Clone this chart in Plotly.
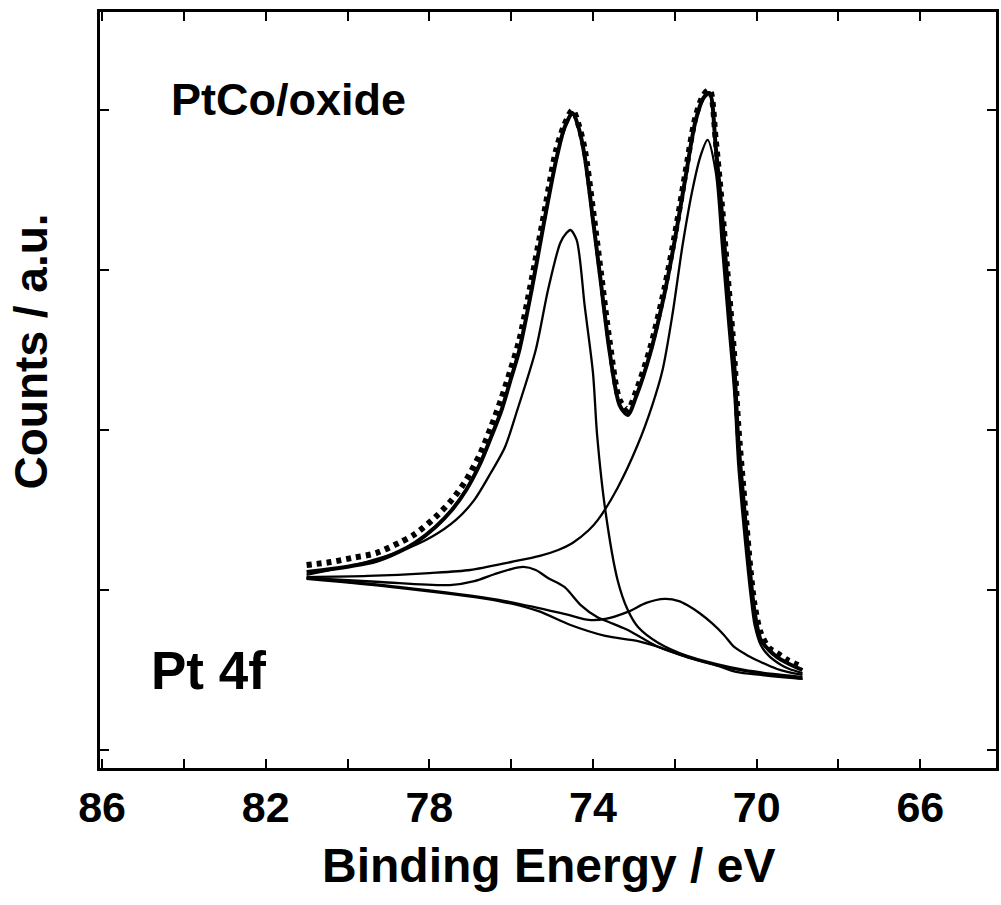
import plotly.graph_objects as go

# ---------------- data (binding energy in eV, counts in a.u.) ----------------
be_env = [81.0, 80.4, 79.9, 79.3, 78.75, 78.35, 77.85, 77.45, 77.1, 76.75, 76.5, 76.25,
          76.0, 75.8, 75.5, 75.2, 74.9, 74.7, 74.5, 74.35, 74.2, 74.0, 73.8, 73.6,
          73.35, 73.15, 72.95, 72.6, 72.25, 72.0, 71.75, 71.5, 71.3, 71.15, 71.0,
          70.85, 70.7, 70.55, 70.45, 70.3, 70.15, 70.05, 69.9, 69.7, 69.5, 69.25, 68.88]
measured = [1156, 1175, 1200, 1231, 1294, 1350, 1456, 1563, 1688, 1856, 2013, 2188,
            2388, 2563, 2938, 3344, 3750, 3906, 4000, 3906, 3750, 3375, 2969, 2563,
            2188, 2125, 2238, 2513, 2888, 3219, 3594, 3950, 4094, 4125, 3813,
            3406, 2938, 2469, 2031, 1563, 1125, 906, 731, 638, 606, 563, 519]
fit_sum = [1113, 1131, 1150, 1181, 1238, 1294, 1394, 1500, 1625, 1794, 1950, 2113,
           2325, 2500, 2875, 3294, 3688, 3888, 3981, 3888, 3706, 3313, 2906, 2500,
           2156, 2094, 2206, 2481, 2856, 3188, 3563, 3925, 4075, 4106, 3769,
           3356, 2875, 2419, 1938, 1500, 1081, 863, 688, 625, 581, 544, 500]

be_pt72 = [81.0, 79.5, 78.0, 77.0, 76.0, 75.3, 74.85, 74.5, 74.1, 73.88, 73.4, 72.91,
           72.55, 72.3, 72.06, 71.81, 71.57, 71.38, 71.2, 71.0, 70.85, 70.7, 70.55,
           70.45, 70.3, 70.15, 70.05, 69.9, 69.7, 69.4, 69.2, 68.88]
pt_4f72 = [1081, 1088, 1106, 1125, 1175, 1213, 1250, 1294, 1375, 1438, 1638, 1906,
           2156, 2375, 2719, 3156, 3500, 3706, 3813, 3613, 3156, 2688, 2238,
           1781, 1344, 969, 781, 656, 588, 531, 506, 481]

be_pt52 = [81.0, 79.55, 78.75, 77.95, 77.35, 76.9, 76.5, 76.15, 75.85, 75.4, 75.1,
           74.8, 74.65, 74.55, 74.4, 74.2, 74.0, 73.9, 73.7, 73.4, 73.15, 72.9,
           72.4, 71.7, 71.0, 70.3, 69.6, 68.88]
pt_4f52 = [1094, 1175, 1238, 1331, 1438, 1563, 1731, 1894, 2125, 2500, 2875,
           3169, 3231, 3250, 3188, 2769, 2356, 1969, 1500, 1063, 875, 769,
           669, 588, 538, 500, 475, 456]

be_ox52 = [81.0, 79.2, 77.5, 76.9, 76.4, 76.0, 75.7, 75.4, 75.1, 74.7, 74.3, 73.9,
           73.5, 73.15, 72.8, 72.4, 71.7, 71.0, 70.3, 69.6, 68.88]
ox_4f52 = [1075, 1050, 1031, 1056, 1100, 1131, 1144, 1125, 1075, 1019, 906, 831,
           788, 750, 700, 644, 581, 531, 494, 469, 444]

be_ox72 = [81.0, 78.75, 76.3, 75.35, 74.6, 74.1, 73.7, 73.15, 72.7, 72.25, 71.9,
           71.7, 71.4, 71.1, 70.8, 70.55, 70.2, 69.9, 69.5, 69.25, 68.88]
ox_4f72 = [1075, 1019, 938, 888, 844, 813, 819, 863, 919, 944, 931,
           906, 856, 794, 719, 644, 588, 550, 506, 488, 469]

be_bg = [81.0, 78.75, 76.3, 75.35, 74.55, 73.7, 72.9, 72.4, 71.7, 71.0, 70.5, 69.9,
         69.4, 68.88]
background = [1069, 1013, 931, 869, 781, 713, 681, 644, 581, 531, 488, 469, 456, 444]

x_tickvals = [86, 84, 82, 80, 78, 76, 74, 72, 70, 68, 66]
x_ticktext = ["86", "", "82", "", "78", "", "74", "", "70", "", "66"]
y_tickvals = [0, 1000, 2000, 3000, 4000]

# ---------------- figure ----------------
fig = go.Figure()
comp_line = dict(color="black", width=2.3, shape="spline", smoothing=0.8)
for bx, by in [(be_bg, background), (be_ox72, ox_4f72), (be_ox52, ox_4f52),
               (be_pt52, pt_4f52), (be_pt72, pt_4f72)]:
    fig.add_trace(go.Scatter(x=bx, y=by, mode="lines", line=comp_line,
                             showlegend=False, hoverinfo="skip"))

fig.add_trace(go.Scatter(x=be_env, y=fit_sum, mode="lines",
                         line=dict(color="black", width=4, shape="spline", smoothing=0.8),
                         showlegend=False))
fig.add_trace(go.Scatter(x=be_env, y=measured, mode="lines",
                         line=dict(color="black", width=6, dash="5px,5px",
                                   shape="spline", smoothing=0.8),
                         showlegend=False))

font_fam = "Liberation Sans, Arial, sans-serif"
fig.update_layout(
    width=1001, height=905,
    margin=dict(l=100, r=2, t=12, b=137),
    paper_bgcolor="white", plot_bgcolor="white",
    font=dict(family=font_fam, color="black"),
    xaxis=dict(range=[86.05, 64.15], tickvals=x_tickvals, ticktext=x_ticktext,
               ticks="inside", ticklen=9, tickwidth=2, tickcolor="black",
               showline=True, linewidth=3, linecolor="black", mirror="allticks",
               showgrid=False, zeroline=False,
               tickfont=dict(size=43, family=font_fam, weight="bold"),
               ticklabelstandoff=-1),
    yaxis=dict(range=[-112.5, 4612.5], tickvals=y_tickvals, showticklabels=False,
               ticks="inside", ticklen=9, tickwidth=2, tickcolor="black",
               showline=True, linewidth=3, linecolor="black", mirror="allticks",
               showgrid=False, zeroline=False),
    annotations=[
        dict(text="PtCo/oxide", xref="paper", yref="paper", x=0.077, y=0.884,
             xanchor="left", yanchor="middle", showarrow=False,
             font=dict(size=45, family=font_fam, weight="bold")),
        dict(text="Pt 4f", xref="paper", yref="paper", x=0.0545, y=0.1296,
             xanchor="left", yanchor="middle", showarrow=False,
             font=dict(size=53, family=font_fam, weight="bold")),
        dict(text="Binding Energy / eV", xref="paper", yref="paper", x=0.5, y=-0.1296,
             xanchor="center", yanchor="middle", showarrow=False,
             font=dict(size=48, family=font_fam, weight="bold")),
        dict(text="Counts / a.u.", xref="paper", yref="paper", x=-0.0765, y=0.5516,
             xanchor="center", yanchor="middle", showarrow=False, textangle=-90,
             font=dict(size=46, family=font_fam, weight="bold")),
    ],
)

fig.write_html("out.html")
